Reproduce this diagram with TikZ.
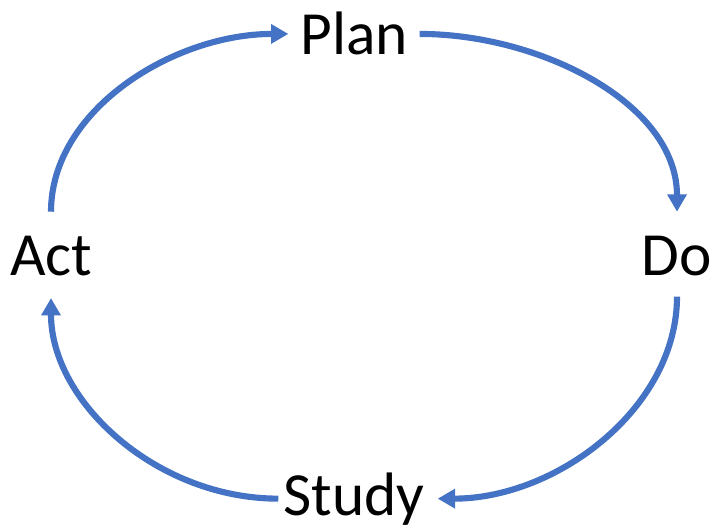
\documentclass[tikz,border=0pt]{standalone}
\usepackage{fontspec}
\setmainfont{Carlito}
\usepackage{xcolor}
\usetikzlibrary{arrows.meta}
\definecolor{cycleblue}{RGB}{68,114,196}

\begin{document}
\begin{tikzpicture}[x=0.75pt,y=0.75pt,yscale=-1,xscale=1,
    stage/.style={inner sep=0.75pt, anchor=base, font=\fontsize{46}{54}\selectfont},
    cyclearrow/.style={draw=cycleblue, line width=4.6pt, -{Triangle[length=13pt,width=14pt]}}]
        %set diagram to the size of the reference
        \useasboundingbox (0,0) rectangle (714,531);

        % Text Node
        \node[stage] (plan) at (354,55) {Plan};
        % Text Node
        \node[stage] (act) at (51,275) {Act};
        % Text Node
        \node[stage] (do) at (677,275) {Do};
        % Text Node
        \node[stage] (study) at (354,515) {Study};

        %Curve Lines
        \draw[cyclearrow, shorten <=17pt, shorten >=8pt] (act.north) to[out=270,in=180] (plan.west);
        \draw[cyclearrow, shorten <=8pt, shorten >=17pt] (plan.east) to[out=0,in=270] (do.north);
        \draw[cyclearrow, shorten <=15pt, shorten >=9pt] (do.south) to[out=90,in=0] (study.east);
        \draw[cyclearrow, shorten <=3pt, shorten >=16pt] (study.west) to[out=180,in=90] (act.south);

\end{tikzpicture}
\end{document}
